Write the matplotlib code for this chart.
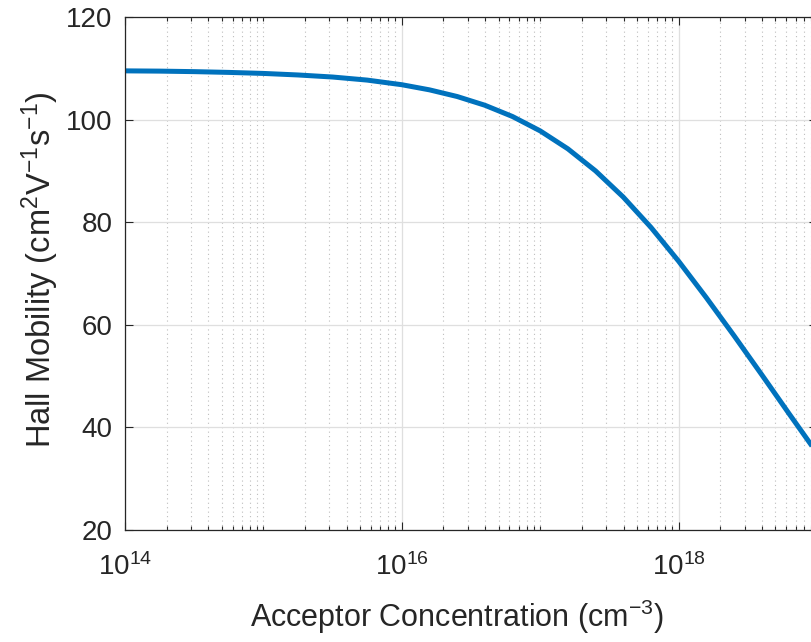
import matplotlib
matplotlib.use("Agg")
import matplotlib.pyplot as plt
from matplotlib.ticker import LogLocator, FixedLocator, NullFormatter, FixedFormatter

plt.rcParams['font.family'] = ['Liberation Sans', 'DejaVu Sans']
plt.rcParams['mathtext.default'] = 'regular'

# Data (log10 of acceptor concentration in cm^-3)
log10_acceptor_conc = [14.0, 14.25, 14.5, 14.75, 15.0, 15.25, 15.5, 15.75, 16.0,
                       16.2, 16.4, 16.6, 16.8, 17.0, 17.2, 17.4, 17.6, 17.8, 18.0,
                       18.2, 18.4, 18.6, 18.8, 19.0]
hall_mobility = [109.5, 109.45, 109.35, 109.2, 109.0, 108.7, 108.3, 107.7, 106.8,
                 105.8, 104.5, 102.8, 100.6, 97.8, 94.3, 90.0, 84.9, 79.0, 72.4,
                 65.3, 57.9, 50.3, 42.6, 35.0]
x_ticks = [1e14, 1e16, 1e18]
x_tick_labels = ['$10^{14}$', '$10^{16}$', '$10^{18}$']
y_ticks = [20, 40, 60, 80, 100, 120]

acceptor_conc = [10 ** v for v in log10_acceptor_conc]

fig = plt.figure(figsize=(8.12, 6.42), dpi=100)
ax = fig.add_axes([125/812, 1-530/642, (817-125)/812, (530-17)/642])

ax.plot(acceptor_conc, hall_mobility, color='#0072BD', lw=3.6,
        solid_capstyle='butt', solid_joinstyle='round')
ax.set_xscale('log')
ax.set_xlim(1e14, 1e19)
ax.set_ylim(20, 120)

ax.xaxis.set_major_locator(FixedLocator(x_ticks))
ax.xaxis.set_major_formatter(FixedFormatter(x_tick_labels))
ax.xaxis.set_minor_locator(LogLocator(base=10, subs=[1, 2, 3, 4, 5, 6, 7, 8, 9], numticks=50))
ax.xaxis.set_minor_formatter(NullFormatter())
ax.set_yticks(y_ticks)

ax.grid(True, which='major', color='#DFDFDF', lw=0.9, ls='-')
ax.grid(True, which='minor', axis='x', color='#BDBDBD', lw=0.8, ls=(0, (1, 3)))
ax.set_axisbelow(True)

for s in ax.spines.values():
    s.set_color('#262626')
    s.set_linewidth(0.9)

ax.tick_params(which='both', direction='in', top=True, right=True, colors='#262626',
               labelsize=20, labelcolor='#262626', width=0.8)
ax.tick_params(which='major', length=6)
ax.tick_params(which='minor', length=3)
ax.tick_params(axis='y', which='major', pad=9)
ax.tick_params(axis='x', which='major', pad=17)

ax.set_xlabel('Acceptor Concentration (cm$^{-3}$)', fontsize=22, color='#262626')
ax.set_ylabel('Hall Mobility (cm$^{2}$V$^{-1}$s$^{-1}$)', fontsize=23.5, color='#262626')
ax.xaxis.set_label_coords(0.48, -0.131)
ax.yaxis.set_label_coords(-0.093, 0.507)

fig.savefig('out.png', dpi=100)
